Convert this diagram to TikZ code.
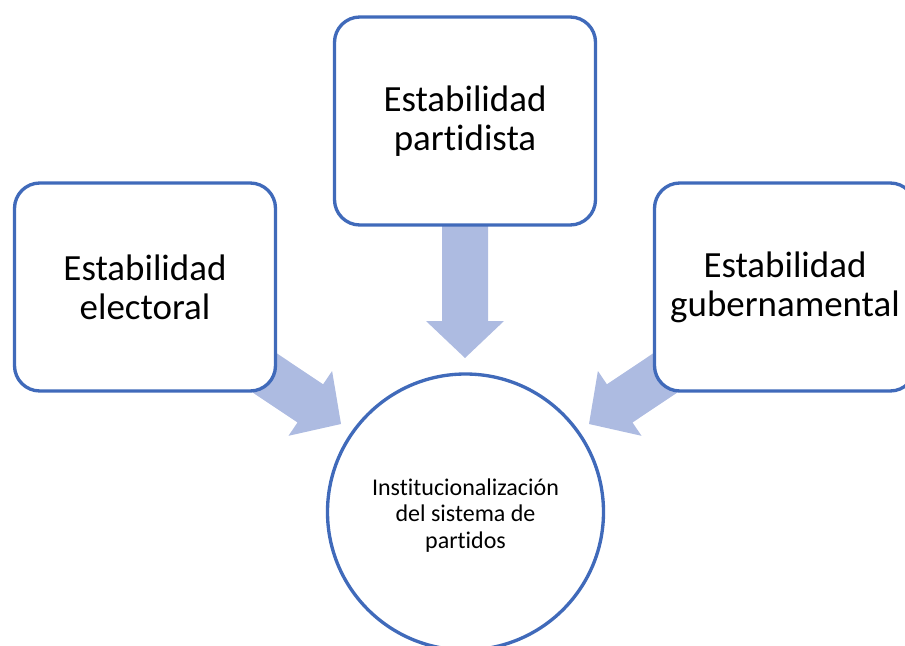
\documentclass[tikz,border=0pt]{standalone}
\usepackage{fontspec}
\setmainfont[Ligatures=NoCommon,RawFeature=-liga]{Carlito}
\definecolor{edgeblue}{RGB}{64,106,186}
\definecolor{arrowfill}{RGB}{173,187,225}
\begin{document}
\begin{tikzpicture}[x=0.75pt,y=-0.75pt,
  box/.style={draw=edgeblue, line width=2.5pt, fill=white, rounded corners=19pt,
    minimum width=195.75pt, minimum height=156pt, align=center, inner sep=0pt,
    font=\fontsize{27.7pt}{29.3pt}\selectfont},
  hub/.style={circle, draw=edgeblue, line width=2.5pt, fill=white, minimum size=207pt,
    inner sep=0pt},
  hubtext/.style={align=center, inner sep=0pt, font=\fontsize{18pt}{19.9pt}\selectfont},
  blockarrow/.style={fill=arrowfill, draw=none}]
\useasboundingbox (0,0) rectangle (905,645);
\clip (0,0) rectangle (905,645);
% block arrows (drawn first, partly hidden by the boxes)
\coordinate (tipT) at (465,358);
\coordinate (tipL) at (341,424);
\coordinate (tipR) at (589,424);
\fill[blockarrow] (442,200) -- (488,200) -- (488,321) -- (504,321) -- (tipT)
  -- (426,321) -- (442,321) -- cycle;
\fill[blockarrow] (220.8,315.9) -- (323.1,384.3) -- (332.1,371.0) -- (tipL)
  -- (288.5,435.8) -- (297.5,422.5) -- (195.2,354.1) -- cycle;
\fill[blockarrow] (709.2,315.9) -- (606.9,384.3) -- (597.9,371.0) -- (tipR)
  -- (641.5,435.8) -- (632.5,422.5) -- (734.8,354.1) -- cycle;
% boxes
\node[box] (elec) at (145,287) {Estabilidad\\electoral};
\node[box] (part) at (465,121) {Estabilidad\\partidista};
\node[box] (gub) at (785,287) {Estabilidad\\gubernamental};
\node[hub, label={[hubtext, yshift=-2.5pt]center:{Institucionalización\\del sistema de\\partidos}}] (inst) at (465.5,512) {};
\end{tikzpicture}
\end{document}
